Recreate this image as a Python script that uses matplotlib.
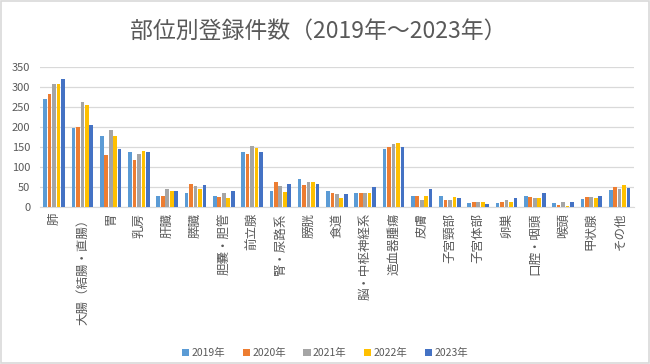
import matplotlib
matplotlib.use("Agg")
import matplotlib.pyplot as plt
import numpy as np
from matplotlib.patches import Rectangle

plt.rcParams['font.family'] = ['Noto Sans CJK JP', 'DejaVu Sans']

categories = ["肺", "大腸（結腸・直腸）", "胃", "乳房", "肝臓", "膵臓", "胆嚢・胆管", "前立腺",
              "腎・尿路系", "膀胱", "食道", "脳・中枢神経系", "造血器腫瘍", "皮膚", "子宮頸部",
              "子宮体部", "卵巣", "口腔・咽頭", "喉頭", "甲状腺", "その他"]
years = ["2019年", "2020年", "2021年", "2022年", "2023年"]
v2019 = [270, 198, 177, 137, 27, 36, 27, 137, 41, 71, 40, 36, 144, 29, 29, 10, 10, 27, 10, 21, 44]
v2020 = [283, 200, 130, 118, 29, 58, 25, 133, 64, 56, 36, 36, 151, 29, 19, 12, 13, 26, 6, 26, 50]
v2021 = [308, 262, 192, 133, 45, 53, 35, 153, 53, 63, 33, 36, 157, 17, 17, 14, 19, 24, 14, 26, 46]
v2022 = [307, 255, 177, 140, 41, 45, 23, 148, 38, 63, 22, 36, 160, 27, 26, 13, 13, 24, 4, 22, 56]
v2023 = [319, 206, 145, 138, 40, 55, 40, 138, 59, 57, 33, 51, 149, 45, 22, 9, 22, 36, 12, 27, 49]
series = [v2019, v2020, v2021, v2022, v2023]
colors = ["#5B9BD5", "#ED7D31", "#A5A5A5", "#FFC000", "#4472C4"]

fig = plt.figure(figsize=(6.5, 3.64), dpi=100)
ax = fig.add_axes([0.0615, 0.4305, 0.9135, 0.3863])

x = np.arange(len(categories))
step = 0.158
bw = 0.13
for i, (vals, c, lab) in enumerate(zip(series, colors, years)):
    ax.bar(x + (i - 2) * step, vals, width=bw, color=c, label=lab, zorder=3)

ax.set_xlim(-0.5, len(categories) - 0.5)
ax.set_ylim(0, 350)
ax.set_yticks(np.arange(0, 351, 50))
ax.yaxis.grid(True, color="#D9D9D9", linewidth=0.9, zorder=0)
for s in ["top", "right", "left"]:
    ax.spines[s].set_visible(False)
ax.spines["bottom"].set_color("#D9D9D9")
ax.tick_params(axis="both", length=0, colors="#595959")
ax.tick_params(axis="y", labelsize=8, pad=7)
ax.set_xticks(x)
ax.set_xticklabels(categories, rotation=90, fontsize=9, va="top")
ax.tick_params(axis="x", pad=4)

fig.text(0.49, 0.915, "部位別登録件数（2019年～2023年）", ha="center", va="center",
         fontsize=16.5, color="#595959")

leg = fig.legend(loc="center", bbox_to_anchor=(0.5, 0.03), ncol=5, frameon=False,
                 fontsize=7.5, handlelength=0.7, handleheight=0.7, handletextpad=0.2,
                 columnspacing=1.7, labelcolor="#595959")

fig.patches.append(Rectangle((0.002, 0.003), 0.996, 0.994, transform=fig.transFigure,
                             fill=False, edgecolor="#D9D9D9", linewidth=1.2))

fig.savefig("out.png", dpi=100)
